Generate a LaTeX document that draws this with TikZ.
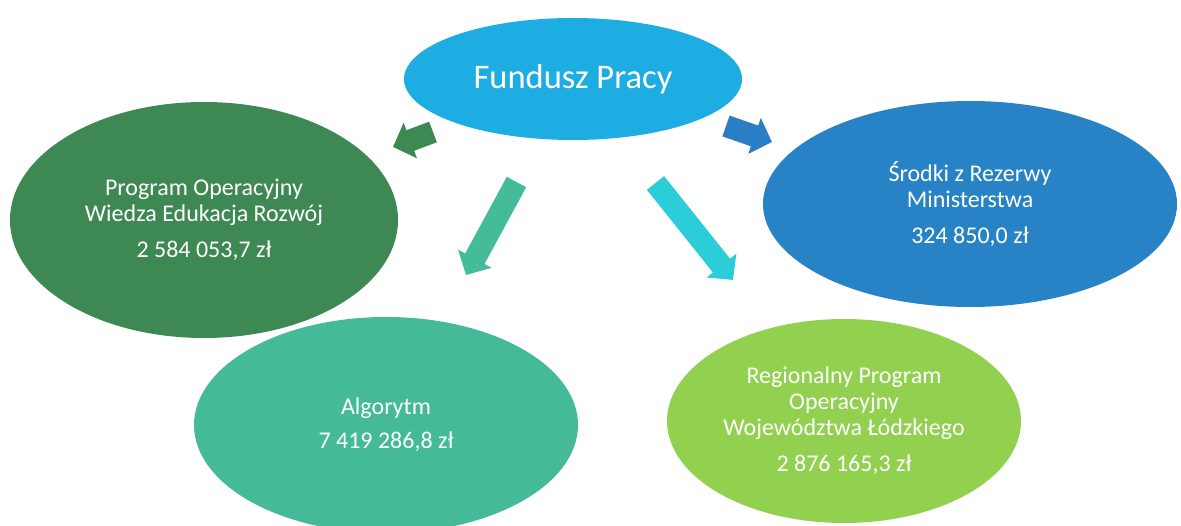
\documentclass[tikz,border=0pt]{standalone}
\usepackage{fontspec}
\setmainfont{Carlito}
\usepackage{tikz}
\usetikzlibrary{shapes.geometric, arrows.meta, positioning, calc}
\definecolor{fundblue}{HTML}{1EADE3}
\definecolor{powergreen}{HTML}{3E8853}
\definecolor{reserveblue}{HTML}{2883C6}
\definecolor{algoteal}{HTML}{44BA98}
\definecolor{rpolime}{HTML}{92D050}
\definecolor{arrowteal}{HTML}{44BB99}
\definecolor{arrowcyan}{HTML}{2BCED8}
\definecolor{arrowblue}{HTML}{2A7EC5}

\tikzset{
  fundbox/.style={ellipse, draw=none, inner sep=0pt, text=white, align=center,
    font=\fontsize{24}{26}\selectfont},
  fatarrow/.style={line width=22pt, -{Triangle[width=37pt,length=18.5pt]}}
}

\begin{document}
\begin{tikzpicture}[x=1pt, y=-1pt]
  \useasboundingbox (0,0) rectangle (1181,526);

  \node[fundbox, fill=fundblue, minimum width=338pt, minimum height=122pt, font=\fontsize{34.5}{37}\selectfont] (fundusz) at (573,79) {Fundusz Pracy};
  \node[fundbox, fill=powergreen, minimum width=388pt, minimum height=236pt] (power) at (204,220) {Program Operacyjny\\Wiedza Edukacja Rozwój\\[10pt]2 584 053,7 zł};
  \node[fundbox, fill=reserveblue, minimum width=414pt, minimum height=206pt] (rezerwa) at (970,204) {Środki z Rezerwy\\Ministerstwa\\[10pt]324 850,0 zł};
  \node[fundbox, fill=algoteal, minimum width=384pt, minimum height=216pt] (algorytm) at (386,425) {Algorytm\\[8pt]7 419 286,8 zł};
  \node[fundbox, fill=rpolime, minimum width=354pt, minimum height=204pt] (rpo) at (844,421) {Regionalny Program\\Operacyjny\\Województwa Łódzkiego\\[10pt]2 876 165,3 zł};

  % arrow ends
  \coordinate (powtail) at (433,132);
  \coordinate (powtip) at (393,147);
  \coordinate (reztail) at (726,126);
  \coordinate (reztip) at (772,142);
  \coordinate (algtail) at (516.5,182);
  \coordinate (algtip) at (466,275);
  \coordinate (rpotail) at (655.5,183);
  \coordinate (rpotip) at (733,280);

  \draw[fatarrow, powergreen] (powtail) -- (powtip);
  \draw[fatarrow, arrowblue] (reztail) -- (reztip);
  \draw[fatarrow, arrowteal] (algtail) -- (algtip);
  \draw[fatarrow, arrowcyan] (rpotail) -- (rpotip);
\end{tikzpicture}
\end{document}
